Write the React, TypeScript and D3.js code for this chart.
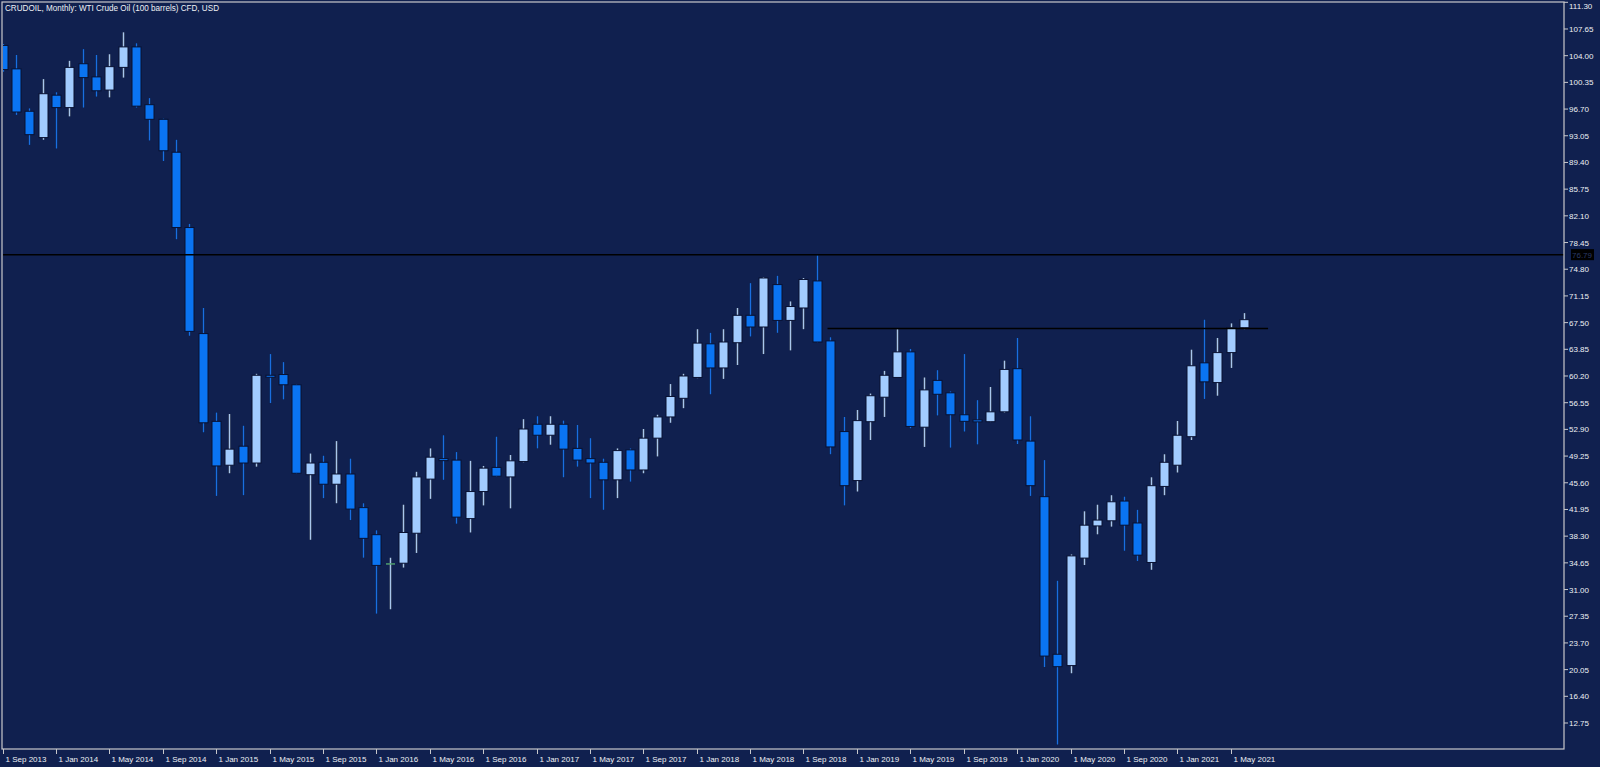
import React from 'react';
import * as d3 from 'd3';

// Monthly candles, Sep 2013 (index 0) .. Jun 2021 (index 93)
const opens = [
  105.4, 102.2, 96.4, 92.8, 98.6, 96.9, 102.9, 101.1, 99.3, 102.4, 105.2, 97.3,
  95.3, 90.8, 80.5, 66.0, 54.0, 48.0, 50.6, 48.3, 60.3, 60.4, 59.0, 46.7,
  48.4, 45.4, 46.8, 42.2, 38.5, 34.5, 34.6, 38.7, 46.1, 48.9, 48.7, 40.7,
  44.4, 47.7, 46.4, 48.5, 53.6, 52.1, 53.6, 50.3, 48.9, 48.4, 46.0, 50.1,
  47.35, 51.7, 54.6, 57.15, 60.0, 64.6, 61.3, 64.75, 68.5, 66.9, 72.7, 67.8,
  69.5, 73.2, 65.0, 52.6, 45.9, 53.95, 57.3, 60.0, 63.5, 53.2, 59.6, 57.9,
  54.9, 54.2, 53.95, 55.3, 61.2, 51.3, 43.7, 22.15, 20.6, 35.3, 39.7, 40.4,
  43.1, 40.1, 34.7, 45.1, 48.0, 51.9, 62.0, 59.3, 63.4, 66.8,
];
const highs = [
  105.6, 104.1, 96.8, 100.8, 99.0, 103.3, 104.9, 104.1, 104.2, 107.2, 105.7, 98.2,
  95.4, 92.5, 81.0, 69.5, 55.2, 55.0, 53.4, 60.5, 63.2, 62.1, 59.1, 49.6,
  49.3, 51.3, 48.9, 42.8, 39.1, 35.35, 42.6, 47.1, 50.3, 52.1, 49.8, 48.6,
  47.9, 51.9, 49.4, 54.3, 54.7, 54.7, 54.1, 53.5, 51.7, 48.9, 50.3, 50.3,
  52.95, 54.9, 59.1, 60.5, 66.6, 66.1, 66.6, 69.5, 72.9, 73.7, 73.9, 70.4,
  73.6, 76.7, 65.5, 54.6, 55.55, 57.8, 60.9, 66.6, 63.9, 60.0, 61.0, 58.1,
  63.2, 56.9, 58.7, 62.3, 65.4, 54.7, 48.7, 32.2, 35.8, 41.7, 42.6, 43.9,
  43.7, 41.9, 46.35, 49.5, 54.05, 63.8, 67.9, 65.4, 67.4, 68.8,
];
const lows = [
  101.8, 95.9, 91.8, 92.5, 91.3, 95.7, 96.9, 98.4, 98.3, 101.0, 96.9, 92.4,
  89.6, 78.9, 65.7, 52.5, 43.8, 46.9, 43.9, 47.8, 56.5, 57.0, 46.8, 37.8,
  43.5, 42.8, 40.5, 35.35, 27.7, 28.3, 34.0, 36.0, 43.4, 46.0, 40.0, 38.8,
  42.5, 46.4, 42.1, 48.4, 50.3, 50.8, 46.35, 47.8, 43.5, 41.9, 43.5, 45.75,
  46.9, 49.2, 53.8, 55.8, 59.9, 57.7, 59.8, 61.7, 65.6, 63.2, 66.1, 63.7,
  66.6, 64.8, 49.5, 42.5, 44.4, 51.45, 54.6, 60.0, 53.05, 50.5, 54.8, 50.4,
  52.6, 50.85, 53.9, 55.2, 50.9, 43.8, 20.4, 9.8, 19.55, 34.35, 38.55, 39.6,
  36.3, 34.9, 33.7, 43.9, 47.0, 51.45, 57.06, 57.5, 61.3, 66.6,
];
const closes = [
  102.1, 96.3, 93.2, 98.8, 96.9, 102.4, 101.0, 99.2, 102.5, 105.2, 97.1, 95.3,
  91.0, 80.5, 66.3, 53.8, 47.9, 50.2, 48.3, 60.3, 60.2, 59.0, 46.9, 48.3,
  45.4, 46.8, 42.0, 38.0, 34.3, 34.5, 38.8, 46.4, 49.1, 48.8, 40.9, 44.4,
  47.6, 46.5, 48.6, 52.95, 52.1, 53.6, 50.2, 48.7, 48.3, 46.0, 50.0, 47.35,
  51.7, 54.6, 57.4, 60.2, 64.7, 61.3, 64.85, 68.5, 66.9, 73.6, 67.8, 69.7,
  73.4, 64.85, 50.5, 45.2, 54.1, 57.5, 60.3, 63.5, 53.3, 58.3, 57.7, 54.9,
  54.0, 54.1, 55.3, 61.1, 51.45, 45.2, 21.9, 20.45, 35.6, 39.8, 40.5, 43.0,
  39.8, 35.7, 45.2, 48.4, 52.1, 61.6, 59.4, 63.4, 66.8, 67.9,
];

const priceTicks = [
  '111.30', '107.65', '104.00', '100.35', '96.70', '93.05', '89.40', '85.75',
  '82.10', '78.45', '74.80', '71.15', '67.50', '63.85', '60.20', '56.55',
  '52.90', '49.25', '45.60', '41.95', '38.30', '34.65', '31.00', '27.35',
  '23.70', '20.05', '16.40', '12.75',
];

const dateLabels = [
  '1 Sep 2013', '1 Jan 2014', '1 May 2014', '1 Sep 2014', '1 Jan 2015', '1 May 2015',
  '1 Sep 2015', '1 Jan 2016', '1 May 2016', '1 Sep 2016', '1 Jan 2017', '1 May 2017',
  '1 Sep 2017', '1 Jan 2018', '1 May 2018', '1 Sep 2018', '1 Jan 2019', '1 May 2019',
  '1 Sep 2019', '1 Jan 2020', '1 May 2020', '1 Sep 2020', '1 Jan 2021', '1 May 2021',
];
const dateLabelIndex = [
  0, 4, 8, 12, 16, 20, 24, 28, 32, 36, 40, 44, 48, 52, 56, 60, 64, 68, 72, 76, 80, 84, 88, 92,
];

const title = 'CRUDOIL, Monthly:  WTI Crude Oil (100 barrels) CFD, USD';
const hLineLevel = 76.79;
const hLineLabel = '76.79';
const resistanceLevel = 66.7;
const resistanceFrom = 61.8;
const resistanceTo = 94.8;

const BG = '#10204f';
const BEAR = '#0a74f2';
const BULL = '#a2ccff';
const BEAR_WICK = '#1a6ee0';
const BULL_WICK = '#a8c6ec';
const OUTLINE = '#081030';
const FRAME = '#c8c8cc';
const TEXT = '#eef0f4';
const FONT = '"Liberation Sans", Arial, sans-serif';

export default function App() {
  const W = 1600;
  const H = 767;
  const plotLeft = 2;
  const plotRight = 1564;
  const plotTop = 2;
  const plotBottom = 749;

  const x = d3.scaleLinear().domain([0, 93]).range([2.5, 2.5 + 93 * 13.35]);
  const y = d3.scaleLinear().domain([12.75, 111.3]).range([723.0, 2.3]);
  const bodyW = 9;

  const candles = opens.map((o, i) => ({
    i,
    o,
    h: highs[i],
    l: lows[i],
    c: closes[i],
  }));

  return (
    <svg
      width={W}
      height={H}
      style={{ position: 'fixed', left: 0, top: 0, display: 'block' }}
      xmlns="http://www.w3.org/2000/svg"
    >
      <defs>
        <clipPath id="plot">
          <rect x={plotLeft + 1} y={plotTop + 1} width={plotRight - plotLeft - 1} height={plotBottom - plotTop - 1} />
        </clipPath>
      </defs>
      <rect x={0} y={0} width={W} height={H} fill={BG} />

      <g clipPath="url(#plot)">
        {candles.map((d) => {
          const cx = Math.round(x(d.i)) + 0.5;
          const doji = d.o === d.c;
          const bull = d.c > d.o;
          const top = y(Math.max(d.o, d.c));
          const bot = y(Math.min(d.o, d.c));
          const wickColor = doji ? BULL_WICK : bull ? BULL_WICK : BEAR_WICK;
          return (
            <g key={d.i}>
              <line x1={cx} x2={cx} y1={y(d.h)} y2={y(d.l)} stroke={OUTLINE} strokeWidth={3} />
              <line x1={cx} x2={cx} y1={y(d.h)} y2={y(d.l)} stroke={wickColor} strokeWidth={1.6} />
              {doji ? (
                <line
                  x1={cx - bodyW / 2}
                  x2={cx + bodyW / 2}
                  y1={top}
                  y2={top}
                  stroke="#4f9e6e"
                  strokeWidth={1.5}
                />
              ) : (
                <rect
                  x={cx - bodyW / 2}
                  y={top}
                  width={bodyW}
                  height={Math.max(bot - top, 2)}
                  fill={bull ? BULL : BEAR}
                  stroke={OUTLINE}
                  strokeWidth={1}
                />
              )}
            </g>
          );
        })}

        <line
          x1={plotLeft}
          x2={plotRight}
          y1={y(hLineLevel)}
          y2={y(hLineLevel)}
          stroke="#000000"
          strokeWidth={1.5}
        />
        <line
          x1={x(resistanceFrom)}
          x2={x(resistanceTo)}
          y1={y(resistanceLevel)}
          y2={y(resistanceLevel)}
          stroke="#000000"
          strokeWidth={1.5}
        />
      </g>

      {/* frame */}
      <rect
        x={plotLeft}
        y={plotTop}
        width={plotRight - plotLeft}
        height={plotBottom - plotTop}
        fill="none"
        stroke={FRAME}
        strokeWidth={1.2}
      />

      <text x={5} y={11} fill={TEXT} fontFamily={FONT} fontSize={8.5} textLength={214} lengthAdjust="spacingAndGlyphs">
        {title}
      </text>

      {/* price axis */}
      {priceTicks.map((t) => {
        const py = y(parseFloat(t));
        return (
          <g key={t}>
            <line x1={plotRight} x2={plotRight + 4} y1={py} y2={py} stroke={FRAME} strokeWidth={1} />
            <text x={plotRight + 5} y={Math.max(py + 3, 9)} fill={TEXT} fontFamily={FONT} fontSize={8}>
              {t}
            </text>
          </g>
        );
      })}

      <rect x={1571} y={y(hLineLevel) - 5.5} width={23} height={11} fill="#000000" />
      <text x={1572} y={y(hLineLevel) + 3} fill="#2a3a68" fontFamily={FONT} fontSize={8}>
        {hLineLabel}
      </text>

      {/* date axis */}
      {dateLabels.map((t, k) => {
        const tx = Math.round(x(dateLabelIndex[k])) + 0.5;
        return (
          <g key={t}>
            <line x1={tx} x2={tx} y1={plotBottom} y2={plotBottom + 5} stroke={FRAME} strokeWidth={1} />
            <text x={tx + 2} y={762} fill={TEXT} fontFamily={FONT} fontSize={8}>
              {t}
            </text>
          </g>
        );
      })}
    </svg>
  );
}
